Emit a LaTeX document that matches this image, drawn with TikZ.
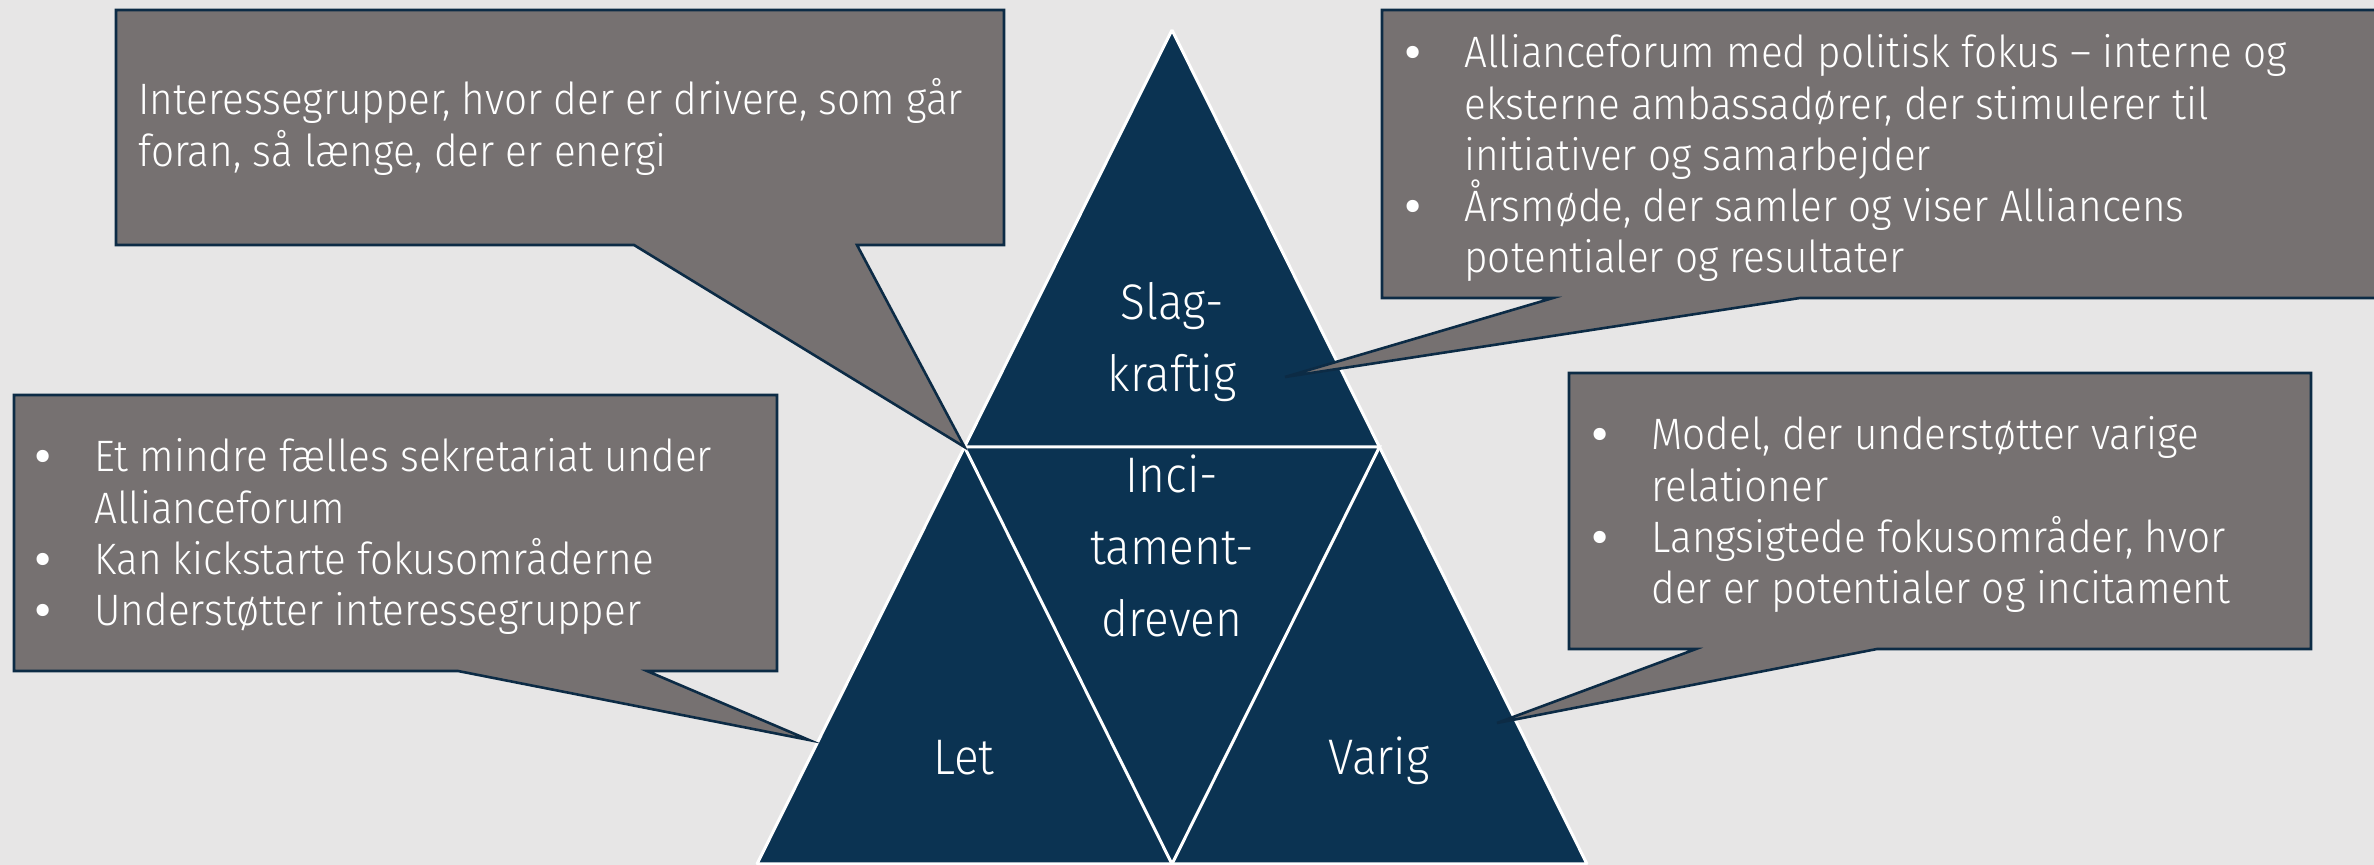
\documentclass[tikz,border=0pt]{standalone}
\usepackage{fontspec}
\setmainfont{Fira Sans}[UprightFont={* Light}, FakeStretch=0.92]
\newfontfamily\bulletfont{Fira Sans}
\usetikzlibrary{calc}
\definecolor{bgc}{HTML}{E7E6E6}
\definecolor{navy}{HTML}{0B3352}
\definecolor{calloutgray}{HTML}{767171}
\definecolor{calloutedge}{HTML}{0C2B45}
\newcommand{\bitem}[1]{\par\hangindent=32pt\hangafter=1\noindent\makebox[32pt][l]{\hspace{2.5pt}{\bulletfont\bfseries\textbullet}}#1}
\newcommand{\tbox}[2]{\parbox[t]{#1}{\parindent=0pt\raggedright #2}}
\newcommand{\tlabel}[1]{\parbox[t]{100pt}{\centering #1}}
\tikzset{
  callout/.style={fill=calloutgray, draw=calloutedge, line width=1.3pt, line join=miter},
  bodytext/.style={inner sep=0pt, anchor=base west, text=white, font=\fontsize{22}{25.6}\selectfont},
  trilabel/.style={inner sep=0pt, anchor=base, text=white, font=\fontsize{25}{36}\selectfont},
  tri/.style={fill=navy},
  triline/.style={draw=white, line width=1.5pt},
}
\begin{document}
\begin{tikzpicture}[x=0.5pt,y=-0.5pt]
\fill[bgc] (0,0) rectangle (2374,865);
\useasboundingbox (0,0) rectangle (2374,865);
% triangle
\coordinate (A) at (1172,30);
\coordinate (B) at (757,864);
\coordinate (C) at (1587,864);
\coordinate (L) at ($(A)!0.5!(B)$);
\coordinate (R) at ($(A)!0.5!(C)$);
\coordinate (M) at ($(B)!0.5!(C)$);
\fill[tri] (A) -- (B) -- (C) -- cycle;
\draw[triline, line join=bevel] (A) -- (B) -- (C) -- cycle;
\draw[triline] (L) -- (R) -- (M) -- cycle;
% labels
\node[trilabel] (slag) at (1172,320) {\tlabel{Slag-\\kraftig}};
\node[trilabel] (inci) at (1172,493) {\tlabel{Inci-\\tament-\\dreven}};
\node[trilabel] (let) at (964,775) {Let};
\node[trilabel] (varig) at (1379,775) {Varig};
% callouts
\coordinate (tipTL) at (L);
\coordinate (tipTR) at (1285,377);
\coordinate (tipL) at (809,740);
\coordinate (tipR) at (1497,723);
\draw[callout] (116,10) -- (1004,10) -- (1004,245) -- (857,245) -- (tipTL) -- (634,245) -- (116,245) -- cycle;
\draw[callout] (1382,10) -- (2380,10) -- (2380,298) -- (1800,298) -- (tipTR) -- (1553,298) -- (1382,298) -- cycle;
\draw[callout] (14,395) -- (777,395) -- (777,671) -- (647,671) -- (tipL) -- (458,671) -- (14,671) -- cycle;
\draw[callout] (1569,373) -- (2311,373) -- (2311,649) -- (1877,649) -- (tipR) -- (1696,649) -- (1569,649) -- cycle;
% texts
\node[bodytext] (tTL) at (138,115) {\tbox{430pt}{Interessegrupper, hvor der er drivere, som går\newline foran, så længe, der er energi}};
\node[bodytext] (tTR) at (1400,68) {\tbox{480pt}{\bitem{Allianceforum med politisk fokus – interne og\newline eksterne ambassadører, der stimulerer til\newline initiativer og samarbejder}\bitem{Årsmøde, der samler og viser Alliancens\newline potentialer og resultater}}};
\node[bodytext] (tL) at (30,472) {\tbox{370pt}{\bitem{Et mindre fælles sekretariat under\newline Allianceforum}\bitem{Kan kickstarte fokusområderne}\bitem{Understøtter interessegrupper}}};
\node[bodytext] (tR) at (1587,450) {\tbox{355pt}{\bitem{Model, der understøtter varige\newline relationer}\bitem{Langsigtede fokusområder, hvor\newline der er potentialer og incitament}}};
\end{tikzpicture}
\end{document}
